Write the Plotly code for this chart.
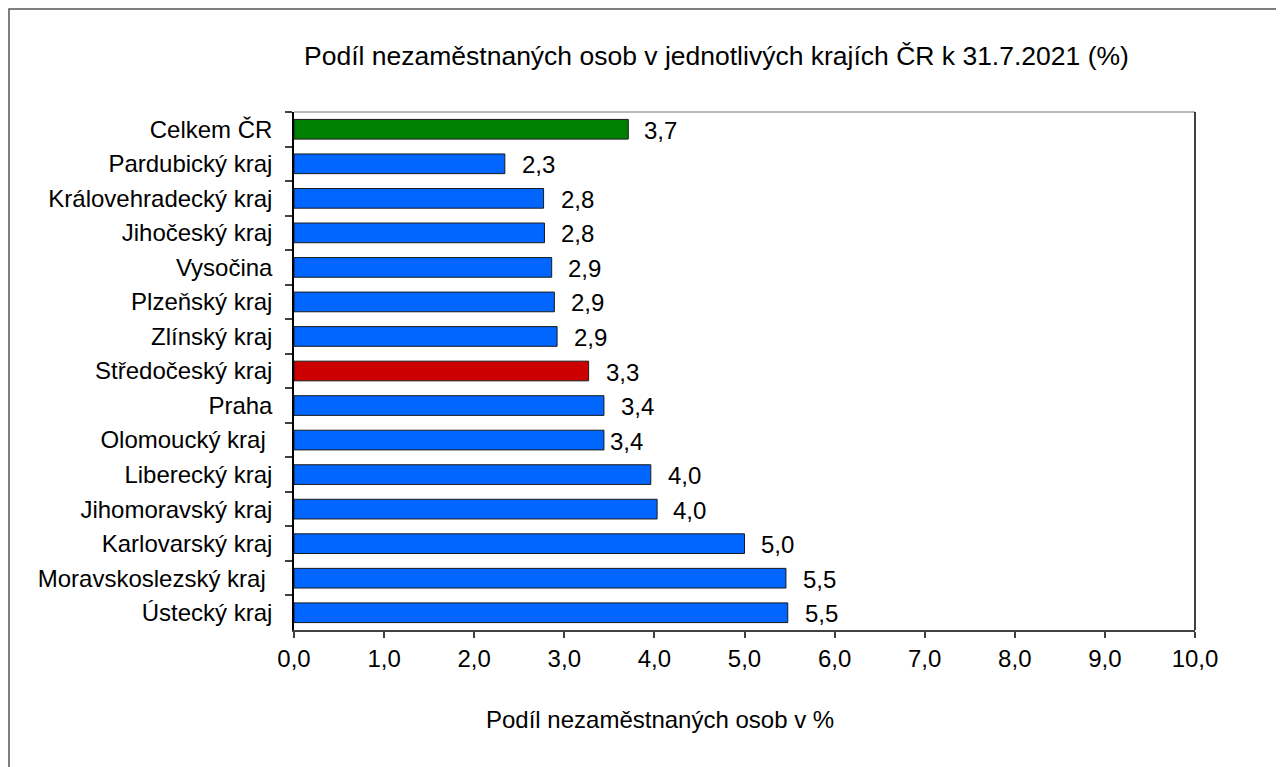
import plotly.graph_objects as go

categories = ["Celkem ČR", "Pardubický kraj", "Královehradecký kraj", "Jihočeský kraj",
              "Vysočina", "Plzeňský kraj", "Zlínský kraj", "Středočeský kraj", "Praha",
              "Olomoucký kraj\u00a0", "Liberecký kraj", "Jihomoravský kraj", "Karlovarský kraj",
              "Moravskoslezský kraj\u00a0", "Ústecký kraj"]
values = [3.71, 2.34, 2.77, 2.78, 2.86, 2.89, 2.92, 3.27, 3.44, 3.44, 3.96, 4.03, 5.00, 5.46, 5.48]
value_labels = ["3,7", "2,3", "2,8", "2,8", "2,9", "2,9", "2,9", "3,3", "3,4", "3,4",
                "4,0", "4,0", "5,0", "5,5", "5,5"]
bar_colors = ["#008000"] + ["#0066FF"] * 6 + ["#CC0000"] + ["#0066FF"] * 7
label_shift = [14, 15, 15, 15, 14, 15, 15, 15, 15, 4, 15, 14, 14, 15, 15]
x_ticks = [0, 1, 2, 3, 4, 5, 6, 7, 8, 9, 10]

FONT = "Liberation Sans, Arial, sans-serif"

# page has an 8px body margin; the figure starts at (8, 8) and reaches the window edge
W, H = 1276, 759
ML, MR, MT, MB = 286, 89, 104, 137
PW, PH = W - ML - MR, H - MT - MB

fig = go.Figure()
fig.add_trace(go.Bar(
    x=values, y=categories, orientation="h",
    marker=dict(color=bar_colors, line=dict(color="#1a1a1a", width=1)),
    width=0.57, hoverinfo="x+y",
))

for v, c, t, s in zip(values, categories, value_labels, label_shift):
    fig.add_annotation(x=v, y=c, text=t, showarrow=False, xanchor="left",
                       yanchor="middle", xshift=s, yshift=-1,
                       font=dict(family=FONT, size=24, color="#000000"))

fig.add_annotation(x=0.4684, y=1.108, xref="paper", yref="paper",
                   text="Podíl nezaměstnaných osob v jednotlivých krajích ČR k 31.7.2021 (%)",
                   showarrow=False, xanchor="center", yanchor="middle",
                   font=dict(family=FONT, size=26.5, color="#000000"))
fig.add_annotation(x=0.4057, y=-0.172, xref="paper", yref="paper",
                   text="Podíl nezaměstnaných osob v %",
                   showarrow=False, xanchor="center", yanchor="middle",
                   font=dict(family=FONT, size=24, color="#000000"))

# top border of plot area (light gray) and outer chart frame
fig.add_shape(type="line", xref="paper", yref="paper", x0=0, x1=1, y0=1, y1=1,
              line=dict(color="#a0a0a0", width=1.5))
fig.add_shape(type="rect", xref="paper", yref="paper",
              x0=(1 - ML) / PW, x1=1.2, y0=(MT + PH - 1) / PH, y1=-0.4,
              line=dict(color="#555555", width=1.5))

fig.update_layout(
    width=W, height=H,
    margin=dict(l=ML, r=MR, t=MT, b=MB, pad=0),
    paper_bgcolor="white", plot_bgcolor="white",
    separators=",.",
    showlegend=False,
    font=dict(family=FONT, size=24, color="#000000"),
)
fig.update_xaxes(
    range=[0, 10], tickvals=x_ticks, tickformat=".1f",
    showgrid=False, zeroline=False,
    showline=True, linecolor="#404040", linewidth=2,
    ticks="outside", ticklen=6, tickcolor="#404040", tickwidth=1.5,
    tickfont=dict(family=FONT, size=24, color="#000000"),
)
fig.update_yaxes(
    categoryorder="array", categoryarray=categories, autorange="reversed",
    showgrid=False, zeroline=False,
    showline=True, linecolor="#000000", linewidth=1.5, mirror=False,
    ticks="outside", ticklen=7, tickcolor="#404040", tickwidth=1.5,
    tickson="boundaries",
    ticklabelstandoff=15,
    tickfont=dict(family=FONT, size=24, color="#000000"),
)
# right border of plot area (black)
fig.add_shape(type="line", xref="paper", yref="paper", x0=1, x1=1, y0=0, y1=1,
              line=dict(color="#000000", width=1.5))

fig.write_html("out.html")
